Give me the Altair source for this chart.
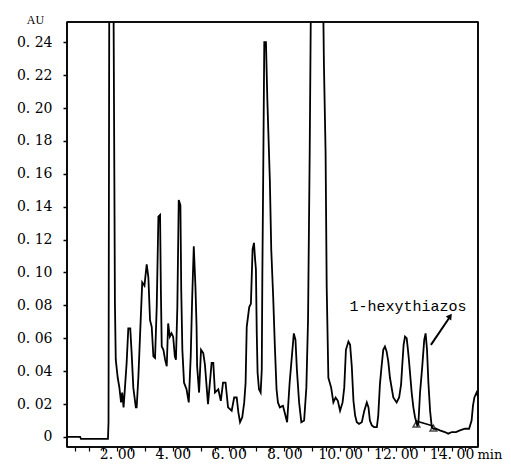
import altair as alt
import pandas as pd

# ---- chromatogram trace (retention time in min, absorbance in AU) ----
time_min = [
    0.20, 0.67, 0.70, 1.67, 1.69, 1.72, 1.86, 1.90, 1.92, 1.95,
    2.02, 2.08, 2.14, 2.18, 2.23, 2.28, 2.34, 2.40, 2.47, 2.52,
    2.58, 2.67, 2.70, 2.76, 2.82, 2.90, 2.98, 3.06, 3.12, 3.18,
    3.24, 3.30, 3.36, 3.42, 3.48, 3.54, 3.57, 3.60, 3.66, 3.72,
    3.78, 3.83, 3.89, 3.95, 4.01, 4.07, 4.11, 4.16, 4.21, 4.27,
    4.30, 4.34, 4.40, 4.49, 4.57, 4.64, 4.69, 4.75, 4.81, 4.85,
    4.87, 4.94, 5.01, 5.09, 5.15, 5.26, 5.39, 5.45, 5.51, 5.63,
    5.72, 5.80, 5.89, 5.98, 6.11, 6.20, 6.29, 6.35, 6.41, 6.49,
    6.56, 6.61, 6.65, 6.74, 6.80, 6.86, 6.91, 6.95, 6.98, 7.01,
    7.04, 7.09, 7.15, 7.19, 7.21, 7.24, 7.28, 7.34, 7.39, 7.48,
    7.53, 7.60, 7.66, 7.72, 7.77, 7.84, 7.95, 8.01, 8.10, 8.19,
    8.28, 8.34, 8.40, 8.45, 8.53, 8.61, 8.71, 8.79, 8.85, 8.91,
    8.97, 9.37, 9.42, 9.48, 9.52, 9.58, 9.68, 9.76, 9.84, 9.92,
    10.00, 10.09, 10.15, 10.21, 10.30, 10.36, 10.42, 10.48, 10.54, 10.60,
    10.68, 10.78, 10.87, 10.96, 11.02, 11.07, 11.14, 11.22, 11.32, 11.37,
    11.43, 11.49, 11.55, 11.61, 11.67, 11.73, 11.79, 11.91, 12.03, 12.12,
    12.19, 12.23, 12.28, 12.33, 12.39, 12.43, 12.47, 12.57, 12.63, 12.69,
    12.77, 12.81, 12.87, 12.95, 13.02, 13.07, 13.12, 13.17, 13.23, 13.29,
    13.35, 13.44, 13.58, 13.76, 13.88, 14.01, 14.16, 14.30, 14.48, 14.63,
    14.72, 14.77, 14.82, 14.90, 14.96,
]
absorbance = [
    0.000, 0.000, -0.0012, -0.0012, 0.009, 0.300, 0.300, 0.156, 0.081, 0.047,
    0.036, 0.030, 0.021, 0.027, 0.018, 0.030, 0.045, 0.066, 0.066, 0.051,
    0.030, 0.018, 0.018, 0.036, 0.061, 0.094, 0.092, 0.105, 0.097, 0.071,
    0.067, 0.049, 0.048, 0.079, 0.134, 0.135, 0.088, 0.055, 0.053, 0.047,
    0.043, 0.069, 0.061, 0.063, 0.061, 0.049, 0.047, 0.079, 0.144, 0.141,
    0.089, 0.053, 0.033, 0.029, 0.021, 0.049, 0.083, 0.116, 0.091, 0.067,
    0.043, 0.027, 0.053, 0.051, 0.044, 0.020, 0.045, 0.045, 0.027, 0.029,
    0.022, 0.033, 0.033, 0.018, 0.016, 0.024, 0.024, 0.015, 0.009, 0.012,
    0.021, 0.033, 0.067, 0.079, 0.081, 0.114, 0.118, 0.108, 0.102, 0.063,
    0.039, 0.029, 0.027, 0.041, 0.097, 0.156, 0.240, 0.240, 0.205, 0.156,
    0.114, 0.085, 0.055, 0.029, 0.021, 0.018, 0.019, 0.015, 0.009, 0.033,
    0.051, 0.063, 0.059, 0.041, 0.021, 0.009, 0.010, 0.030, 0.071, 0.173,
    0.300, 0.300, 0.227, 0.173, 0.091, 0.036, 0.030, 0.021, 0.024, 0.022,
    0.016, 0.021, 0.030, 0.053, 0.058, 0.056, 0.043, 0.022, 0.013, 0.009,
    0.008, 0.009, 0.016, 0.021, 0.018, 0.010, 0.007, 0.006, 0.006, 0.013,
    0.032, 0.043, 0.053, 0.055, 0.052, 0.046, 0.036, 0.024, 0.021, 0.024,
    0.032, 0.043, 0.056, 0.061, 0.060, 0.054, 0.047, 0.027, 0.018, 0.012,
    0.007, 0.008, 0.027, 0.043, 0.059, 0.063, 0.053, 0.033, 0.016, 0.006,
    0.005, 0.005, 0.004, 0.003, 0.002, 0.003, 0.003, 0.004, 0.005, 0.005,
    0.010, 0.019, 0.024, 0.027, 0.024,
]

# ---- integration baseline and peak markers of 1-hexythiazos ----
baseline_t = [12.73, 13.34]
baseline_v = [0.0097, 0.0067]
marker_t = [12.74, 13.35]
marker_v = [0.0078, 0.0054]

# ---- annotation ----
arrow_t = [13.26, 13.92]
arrow_v = [0.056, 0.0725]
head_t = [13.95]
head_v = [0.0735]
label_text = ["1-hexythiazos"]
label_t = [12.44]
label_v = [0.0797]

# ---- axes ----
y_ticks = [0, 0.02, 0.04, 0.06, 0.08, 0.10, 0.12, 0.14, 0.16, 0.18, 0.20, 0.22, 0.24]
x_ticks = [0.5, 1, 1.5, 2, 2.5, 3, 3.5, 4, 4.5, 5, 5.5, 6, 6.5, 7, 7.5, 8,
           8.5, 9, 9.5, 10, 10.5, 11, 11.5, 12, 12.5, 13, 13.5, 14, 14.5]

FONT = "DejaVu Serif"
W, H = 411, 425

x_scale = alt.Scale(domain=[0.2, 14.95], nice=False, zero=False)
y_scale = alt.Scale(domain=[-0.0061, 0.2523], nice=False, zero=False)

x_axis = alt.Axis(
    values=x_ticks,
    labelExpr="datum.value % 2 == 0 ? replace(format(datum.value, '.2f'), '.', '. ') : ''",
    title="min", titleAngle=0, titleX=410, titleY=11, titleAlign="left",
    titleBaseline="alphabetic", titleFont=FONT, titleFontSize=13,
    titleFontWeight="normal", titleColor="black",
    labelFont=FONT, labelFontSize=14, labelColor="black",
    labelBaseline="alphabetic", labelPadding=7,
    labelOverlap=False, labelFlush=False,
    tickColor="black", tickSize=4, tickWidth=1.2,
    domain=False, grid=False,
)
y_axis = alt.Axis(
    values=y_ticks,
    labelExpr="datum.value == 0 ? '0' : replace(format(datum.value, '.2f'), '.', '. ')",
    title="AU", titleAngle=0, titleX=-32, titleY=-3, titleAlign="center",
    titleBaseline="middle", titleFont="Liberation Serif", titleFontSize=12,
    titleFontWeight="normal", titleColor="black",
    labelFont=FONT, labelFontSize=14, labelColor="black",
    labelPadding=11, labelOverlap=False, labelFlush=False,
    tickColor="black", tickSize=4, tickWidth=1.5,
    domain=False, grid=False,
)


def xe():
    return alt.X("t:Q", scale=x_scale, axis=x_axis)


def ye():
    return alt.Y("v:Q", scale=y_scale, axis=y_axis)


trace_df = pd.DataFrame({"t": time_min, "v": absorbance, "o": list(range(len(time_min)))})
base_df = pd.DataFrame({"t": baseline_t, "v": baseline_v})
mark_df = pd.DataFrame({"t": marker_t, "v": marker_v})
arrow_df = pd.DataFrame({"t": arrow_t, "v": arrow_v})
head_df = pd.DataFrame({"t": head_t, "v": head_v})
label_df = pd.DataFrame({"t": label_t, "v": label_v, "label": label_text})
dummy = pd.DataFrame({"k": [0]})

trace = alt.Chart(trace_df).mark_line(
    color="black", strokeWidth=1.8, clip=True
).encode(x=xe(), y=ye(), order="o:Q")

baseline = alt.Chart(base_df).mark_line(
    color="black", strokeWidth=1.5, clip=True
).encode(x=xe(), y=ye())

markers = alt.Chart(mark_df).mark_point(
    shape="triangle-up", filled=False, color="black", size=45, strokeWidth=1.5
).encode(x=xe(), y=ye())

arrow = alt.Chart(arrow_df).mark_line(
    color="black", strokeWidth=2
).encode(x=xe(), y=ye())

head = alt.Chart(head_df).mark_point(
    shape="triangle-up", filled=True, color="black", size=45, angle=35, opacity=1
).encode(x=xe(), y=ye())

label = alt.Chart(label_df).mark_text(
    font="Liberation Mono", fontSize=15, color="black", align="center", baseline="middle"
).encode(x=xe(), y=ye(), text="label:N")

rule_style = dict(color="black", strokeWidth=1.6)
top = alt.Chart(dummy).mark_rule(**rule_style).encode(
    x=alt.value(0), x2=alt.value(W), y=alt.value(0))
bottom = alt.Chart(dummy).mark_rule(**rule_style).encode(
    x=alt.value(0), x2=alt.value(W), y=alt.value(H))
left = alt.Chart(dummy).mark_rule(**rule_style).encode(
    x=alt.value(0), y=alt.value(0), y2=alt.value(H))
right = alt.Chart(dummy).mark_rule(**rule_style).encode(
    x=alt.value(W), y=alt.value(0), y2=alt.value(H))

chart = alt.layer(trace, baseline, markers, arrow, head, label,
                  top, bottom, left, right).properties(
    width=W,
    height=H,
    autosize=alt.AutoSizeParams(type="none"),
    padding={"left": 59, "top": 14, "right": 25, "bottom": 15},
    background="white",
).configure_view(stroke="black", strokeWidth=1.5)

chart.save("out.html", embed_options={"renderer": "svg", "actions": False})
